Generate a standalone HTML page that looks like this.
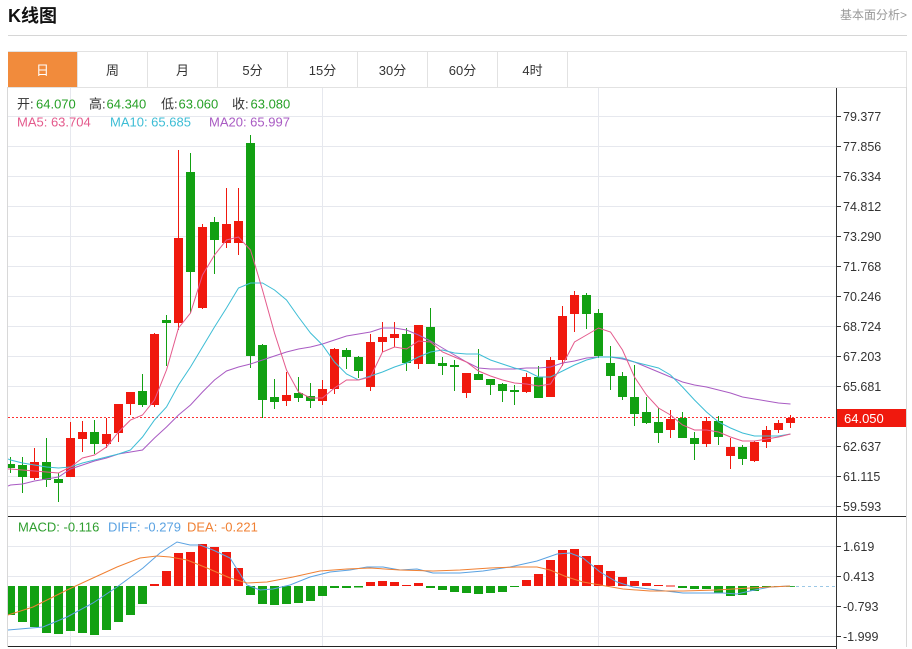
<!DOCTYPE html>
<html>
<head>
<meta charset="utf-8">
<style>
html,body{margin:0;padding:0;background:#fff;}
body{width:912px;height:649px;overflow:hidden;}
svg{display:block;font-family:"Liberation Sans","Noto Sans CJK SC",sans-serif;}
.g{fill:#12a012;stroke:#12a012;}
.r{fill:#f0190e;stroke:#f0190e;}
.gb{fill:#12a012;}
.rb{fill:#f0190e;}
.ax{font-size:12.5px;fill:#333;}
.tab{font-size:13px;fill:#333;text-anchor:middle;}
</style>
</head>
<body>
<svg width="912" height="649" viewBox="0 0 912 649" xmlns="http://www.w3.org/2000/svg">
<defs>
<clipPath id="cp"><rect x="8" y="88" width="828" height="428"/></clipPath>
<clipPath id="cm"><rect x="8" y="517" width="828" height="129"/></clipPath>
</defs>
<rect width="912" height="649" fill="#fff"/>
<!-- header -->
<text x="8" y="22" font-size="18" font-weight="bold" fill="#111">K线图</text>
<text x="907" y="19" font-size="12" fill="#999" text-anchor="end">基本面分析&gt;</text>
<line x1="8" y1="35.5" x2="907" y2="35.5" stroke="#d6d6d6"/>

<!-- tabs -->
<rect x="8.5" y="51.5" width="898" height="36" fill="#fff" stroke="#e2e2e2"/>
<rect x="8" y="52" width="69" height="35" fill="#f18b3c"/>
<g stroke="#e2e2e2">
<line x1="77.5" y1="52" x2="77.5" y2="87"/>
<line x1="147.5" y1="52" x2="147.5" y2="87"/>
<line x1="217.5" y1="52" x2="217.5" y2="87"/>
<line x1="287.5" y1="52" x2="287.5" y2="87"/>
<line x1="357.5" y1="52" x2="357.5" y2="87"/>
<line x1="427.5" y1="52" x2="427.5" y2="87"/>
<line x1="497.5" y1="52" x2="497.5" y2="87"/>
<line x1="567.5" y1="52" x2="567.5" y2="87"/>
</g>
<text x="42.5" y="75" class="tab" style="fill:#fff">日</text>
<text x="112.5" y="75" class="tab">周</text>
<text x="182.5" y="75" class="tab">月</text>
<text x="252.5" y="75" class="tab">5分</text>
<text x="322.5" y="75" class="tab">15分</text>
<text x="392.5" y="75" class="tab">30分</text>
<text x="462.5" y="75" class="tab">60分</text>
<text x="532.5" y="75" class="tab">4时</text>

<!-- chart frame -->
<line x1="7.5" y1="87" x2="7.5" y2="647" stroke="#d8d8d8"/>
<line x1="906.5" y1="87" x2="906.5" y2="647" stroke="#d8d8d8"/>

<!-- grid main -->
<g stroke="#e6e8ee">
<line x1="8" y1="116.5" x2="836" y2="116.5"/>
<line x1="8" y1="146.5" x2="836" y2="146.5"/>
<line x1="8" y1="176.5" x2="836" y2="176.5"/>
<line x1="8" y1="206.5" x2="836" y2="206.5"/>
<line x1="8" y1="236.5" x2="836" y2="236.5"/>
<line x1="8" y1="266.5" x2="836" y2="266.5"/>
<line x1="8" y1="296.5" x2="836" y2="296.5"/>
<line x1="8" y1="326.5" x2="836" y2="326.5"/>
<line x1="8" y1="356.5" x2="836" y2="356.5"/>
<line x1="8" y1="386.5" x2="836" y2="386.5"/>
<line x1="8" y1="446.5" x2="836" y2="446.5"/>
<line x1="8" y1="476.5" x2="836" y2="476.5"/>
<line x1="8" y1="506.5" x2="836" y2="506.5"/>
<line x1="8" y1="546.5" x2="836" y2="546.5"/>
<line x1="8" y1="576.5" x2="836" y2="576.5"/>
<line x1="8" y1="606.5" x2="836" y2="606.5"/>
<line x1="8" y1="636.5" x2="836" y2="636.5"/>
<line x1="70.5" y1="88" x2="70.5" y2="646"/>
<line x1="322.5" y1="88" x2="322.5" y2="646"/>
<line x1="598.5" y1="88" x2="598.5" y2="646"/>
</g>

<!-- current price dotted line -->
<line x1="8" y1="417.5" x2="836" y2="417.5" stroke="#ff3030" stroke-dasharray="2 2" shape-rendering="crispEdges"/>

<!-- candles -->
<g clip-path="url(#cp)">
<g class="g"><line x1="10.5" y1="457" x2="10.5" y2="473" fill="none"/><rect x="6" y="464" width="9" height="4" stroke="none"/></g>
<g class="g"><line x1="22.5" y1="457" x2="22.5" y2="493"/><rect x="18" y="465" width="9" height="12" stroke="none"/></g>
<g class="r"><line x1="34.5" y1="448" x2="34.5" y2="480"/><rect x="30" y="462" width="9" height="16" stroke="none"/></g>
<g class="g"><line x1="46.5" y1="438" x2="46.5" y2="487"/><rect x="42" y="462" width="9" height="18" stroke="none"/></g>
<g class="g"><line x1="58.5" y1="473" x2="58.5" y2="502"/><rect x="54" y="479" width="9" height="4" stroke="none"/></g>
<g class="r"><line x1="70.5" y1="422" x2="70.5" y2="477"/><rect x="66" y="438" width="9" height="39" stroke="none"/></g>
<g class="r"><line x1="82.5" y1="421" x2="82.5" y2="452"/><rect x="78" y="432" width="9" height="7" stroke="none"/></g>
<g class="g"><line x1="94.5" y1="420" x2="94.5" y2="454"/><rect x="90" y="432" width="9" height="12" stroke="none"/></g>
<g class="r"><line x1="106.5" y1="418" x2="106.5" y2="448"/><rect x="102" y="434" width="9" height="10" stroke="none"/></g>
<g class="r"><line x1="118.5" y1="404" x2="118.5" y2="442"/><rect x="114" y="404" width="9" height="29" stroke="none"/></g>
<g class="r"><line x1="130.5" y1="392" x2="130.5" y2="415"/><rect x="126" y="392" width="9" height="12" stroke="none"/></g>
<g class="g"><line x1="142.5" y1="374" x2="142.5" y2="407"/><rect x="138" y="391" width="9" height="14" stroke="none"/></g>
<g class="r"><line x1="154.5" y1="333" x2="154.5" y2="407"/><rect x="150" y="334" width="9" height="71" stroke="none"/></g>
<g class="g"><line x1="166.5" y1="315" x2="166.5" y2="366"/><rect x="162" y="320" width="9" height="3" stroke="none"/></g>
<g class="r"><line x1="178.5" y1="150" x2="178.5" y2="330"/><rect x="174" y="238" width="9" height="85" stroke="none"/></g>
<g class="g"><line x1="190.5" y1="153" x2="190.5" y2="313"/><rect x="186" y="172" width="9" height="100" stroke="none"/></g>
<g class="r"><line x1="202.5" y1="224" x2="202.5" y2="309"/><rect x="198" y="227" width="9" height="81" stroke="none"/></g>
<g class="g"><line x1="214.5" y1="217" x2="214.5" y2="274"/><rect x="210" y="222" width="9" height="18" stroke="none"/></g>
<g class="r"><line x1="226.5" y1="188" x2="226.5" y2="248"/><rect x="222" y="224" width="9" height="19" stroke="none"/></g>
<g class="r"><line x1="238.5" y1="188" x2="238.5" y2="255"/><rect x="234" y="221" width="9" height="22" stroke="none"/></g>
<g class="g"><line x1="250.5" y1="135" x2="250.5" y2="368"/><rect x="246" y="143" width="9" height="213" stroke="none"/></g>
<g class="g"><line x1="262.5" y1="344" x2="262.5" y2="418"/><rect x="258" y="345" width="9" height="55" stroke="none"/></g>
<g class="g"><line x1="274.5" y1="379" x2="274.5" y2="409"/><rect x="270" y="397" width="9" height="5" stroke="none"/></g>
<g class="r"><line x1="286.5" y1="372" x2="286.5" y2="406"/><rect x="282" y="395" width="9" height="6" stroke="none"/></g>
<g class="g"><line x1="298.5" y1="377" x2="298.5" y2="402"/><rect x="294" y="393" width="9" height="5" stroke="none"/></g>
<g class="g"><line x1="310.5" y1="383" x2="310.5" y2="408"/><rect x="306" y="396" width="9" height="5" stroke="none"/></g>
<g class="r"><line x1="322.5" y1="380" x2="322.5" y2="405"/><rect x="318" y="389" width="9" height="12" stroke="none"/></g>
<g class="r"><line x1="334.5" y1="348" x2="334.5" y2="394"/><rect x="330" y="349" width="9" height="40" stroke="none"/></g>
<g class="g"><line x1="346.5" y1="348" x2="346.5" y2="369"/><rect x="342" y="350" width="9" height="7" stroke="none"/></g>
<g class="g"><line x1="358.5" y1="356" x2="358.5" y2="378"/><rect x="354" y="357" width="9" height="14" stroke="none"/></g>
<g class="r"><line x1="370.5" y1="334" x2="370.5" y2="391"/><rect x="366" y="342" width="9" height="45" stroke="none"/></g>
<g class="r"><line x1="382.5" y1="322" x2="382.5" y2="352"/><rect x="378" y="337" width="9" height="5" stroke="none"/></g>
<g class="r"><line x1="394.5" y1="322" x2="394.5" y2="347"/><rect x="390" y="334" width="9" height="4" stroke="none"/></g>
<g class="g"><line x1="406.5" y1="328" x2="406.5" y2="371"/><rect x="402" y="334" width="9" height="29" stroke="none"/></g>
<g class="r"><line x1="418.5" y1="325" x2="418.5" y2="369"/><rect x="414" y="325" width="9" height="39" stroke="none"/></g>
<g class="g"><line x1="430.5" y1="308" x2="430.5" y2="364"/><rect x="426" y="327" width="9" height="37" stroke="none"/></g>
<g class="g"><line x1="442.5" y1="357" x2="442.5" y2="375"/><rect x="438" y="363" width="9" height="3" stroke="none"/></g>
<g class="g"><line x1="454.5" y1="360" x2="454.5" y2="391"/><rect x="450" y="365" width="9" height="2" stroke="none"/></g>
<g class="r"><line x1="466.5" y1="373" x2="466.5" y2="398"/><rect x="462" y="373" width="9" height="20" stroke="none"/></g>
<g class="g"><line x1="478.5" y1="349" x2="478.5" y2="380"/><rect x="474" y="374" width="9" height="6" stroke="none"/></g>
<g class="g"><line x1="490.5" y1="379" x2="490.5" y2="395"/><rect x="486" y="379" width="9" height="6" stroke="none"/></g>
<g class="g"><line x1="502.5" y1="383" x2="502.5" y2="402"/><rect x="498" y="384" width="9" height="7" stroke="none"/></g>
<g class="g"><line x1="514.5" y1="385" x2="514.5" y2="405"/><rect x="510" y="390" width="9" height="2" stroke="none"/></g>
<g class="r"><line x1="526.5" y1="373" x2="526.5" y2="393"/><rect x="522" y="377" width="9" height="15" stroke="none"/></g>
<g class="g"><line x1="538.5" y1="366" x2="538.5" y2="398"/><rect x="534" y="377" width="9" height="21" stroke="none"/></g>
<g class="r"><line x1="550.5" y1="357" x2="550.5" y2="397"/><rect x="546" y="360" width="9" height="37" stroke="none"/></g>
<g class="r"><line x1="562.5" y1="306" x2="562.5" y2="366"/><rect x="558" y="316" width="9" height="44" stroke="none"/></g>
<g class="r"><line x1="574.5" y1="291" x2="574.5" y2="332"/><rect x="570" y="295" width="9" height="19" stroke="none"/></g>
<g class="g"><line x1="586.5" y1="293" x2="586.5" y2="329"/><rect x="582" y="295" width="9" height="19" stroke="none"/></g>
<g class="g"><line x1="598.5" y1="309" x2="598.5" y2="358"/><rect x="594" y="313" width="9" height="43" stroke="none"/></g>
<g class="g"><line x1="610.5" y1="346" x2="610.5" y2="390"/><rect x="606" y="363" width="9" height="13" stroke="none"/></g>
<g class="g"><line x1="622.5" y1="372" x2="622.5" y2="400"/><rect x="618" y="376" width="9" height="21" stroke="none"/></g>
<g class="g"><line x1="634.5" y1="365" x2="634.5" y2="426"/><rect x="630" y="397" width="9" height="17" stroke="none"/></g>
<g class="g"><line x1="646.5" y1="397" x2="646.5" y2="424"/><rect x="642" y="412" width="9" height="11" stroke="none"/></g>
<g class="g"><line x1="658.5" y1="408" x2="658.5" y2="443"/><rect x="654" y="422" width="9" height="11" stroke="none"/></g>
<g class="r"><line x1="670.5" y1="410" x2="670.5" y2="438"/><rect x="666" y="419" width="9" height="11" stroke="none"/></g>
<g class="g"><line x1="682.5" y1="412" x2="682.5" y2="438"/><rect x="678" y="418" width="9" height="20" stroke="none"/></g>
<g class="g"><line x1="694.5" y1="432" x2="694.5" y2="460"/><rect x="690" y="438" width="9" height="6" stroke="none"/></g>
<g class="r"><line x1="706.5" y1="417" x2="706.5" y2="447"/><rect x="702" y="421" width="9" height="23" stroke="none"/></g>
<g class="g"><line x1="718.5" y1="416" x2="718.5" y2="445"/><rect x="714" y="421" width="9" height="16" stroke="none"/></g>
<g class="r"><line x1="730.5" y1="438" x2="730.5" y2="469"/><rect x="726" y="447" width="9" height="9" stroke="none"/></g>
<g class="g"><line x1="742.5" y1="445" x2="742.5" y2="465"/><rect x="738" y="447" width="9" height="12" stroke="none"/></g>
<g class="r"><line x1="754.5" y1="441" x2="754.5" y2="462"/><rect x="750" y="442" width="9" height="19" stroke="none"/></g>
<g class="r"><line x1="766.5" y1="426" x2="766.5" y2="448"/><rect x="762" y="430" width="9" height="12" stroke="none"/></g>
<g class="r"><line x1="778.5" y1="420" x2="778.5" y2="433"/><rect x="774" y="423" width="9" height="7" stroke="none"/></g>
<g class="r"><line x1="790.5" y1="415" x2="790.5" y2="428"/><rect x="786" y="418" width="9" height="5" stroke="none"/></g>

<!-- MA lines -->
<polyline fill="none" stroke="#a95bc3" stroke-width="1" points="8,486 10.5,485 22.5,484 34.5,481 46.5,479 58.5,477 70.5,469 82.5,465 94.5,461 106.5,458 118.5,454 130.5,452 142.5,450 154.5,438 166.5,427 178.5,415 190.5,405 202.5,392 214.5,380 226.5,371 238.5,367 250.5,364 262.5,360 274.5,356 286.5,352 298.5,349 310.5,347 322.5,344 334.5,340 346.5,336 358.5,334 370.5,332 382.5,328 394.5,328 406.5,330 418.5,335 430.5,341 442.5,348 454.5,355 466.5,362 478.5,368 490.5,369 502.5,369 514.5,369 526.5,368 538.5,368 550.5,367 562.5,363 574.5,361 586.5,358 598.5,357 610.5,357 622.5,359 634.5,362 646.5,367 658.5,372 670.5,377 682.5,382 694.5,385 706.5,387 718.5,390 730.5,393 742.5,397 754.5,399 766.5,401 778.5,403 790.5,404"/>
<polyline fill="none" stroke="#3dbdd5" stroke-width="1" points="8,459 10.5,460 22.5,463 34.5,465 46.5,467 58.5,468 70.5,467 82.5,463 94.5,460 106.5,457 118.5,454 130.5,450 142.5,437 154.5,420 166.5,407 178.5,385 190.5,367 202.5,347 214.5,327 226.5,308 238.5,288 250.5,283 262.5,283 274.5,290 286.5,300 298.5,317 310.5,333 322.5,345 334.5,362 346.5,374 358.5,380 370.5,376 382.5,372 394.5,367 406.5,363 418.5,357 430.5,352 442.5,350 454.5,353 466.5,354 478.5,354 490.5,360 502.5,364 514.5,368 526.5,371 538.5,377 550.5,377 562.5,371 574.5,365 586.5,360 598.5,357 610.5,357 622.5,358 634.5,362 646.5,365 658.5,368 670.5,375 682.5,387 694.5,400 706.5,412 718.5,422 730.5,428 742.5,433 754.5,436 766.5,436 778.5,436 790.5,434"/>
<polyline fill="none" stroke="#e45a8c" stroke-width="1" points="8,469 10.5,469 22.5,470 34.5,471 46.5,472 58.5,473 70.5,467 82.5,458 94.5,455 106.5,447 118.5,432 130.5,420 142.5,415 154.5,400 166.5,370 178.5,328 190.5,313 202.5,275 214.5,255 226.5,240 238.5,237 250.5,250 262.5,290 274.5,333 286.5,370 298.5,392 310.5,398 322.5,398 334.5,388 346.5,380 358.5,380 370.5,377 382.5,352 394.5,347 406.5,349 418.5,341 430.5,342 442.5,352 454.5,357 466.5,362 478.5,371 490.5,376 502.5,380 514.5,383 526.5,384 538.5,386 550.5,384 562.5,365 574.5,342 586.5,335 598.5,328 610.5,332 622.5,350 634.5,377 646.5,395 658.5,408 670.5,415 682.5,425 694.5,430 706.5,430 718.5,432 730.5,437 742.5,441 754.5,441 766.5,439 778.5,437 790.5,434"/>
</g>

<!-- MACD -->
<line x1="790" y1="586.5" x2="836" y2="586.5" stroke="#9cc8e6" stroke-dasharray="3 3"/>
<g clip-path="url(#cm)">
<rect class="gb" x="6" y="586" width="9" height="29"/>
<rect class="gb" x="18" y="586" width="9" height="36"/>
<rect class="gb" x="30" y="586" width="9" height="41"/>
<rect class="gb" x="42" y="586" width="9" height="47"/>
<rect class="gb" x="54" y="586" width="9" height="48"/>
<rect class="gb" x="66" y="586" width="9" height="45"/>
<rect class="gb" x="78" y="586" width="9" height="47"/>
<rect class="gb" x="90" y="586" width="9" height="49"/>
<rect class="gb" x="102" y="586" width="9" height="44"/>
<rect class="gb" x="114" y="586" width="9" height="36"/>
<rect class="gb" x="126" y="586" width="9" height="29"/>
<rect class="gb" x="138" y="586" width="9" height="18"/>
<rect class="rb" x="150" y="584" width="9" height="2"/>
<rect class="rb" x="162" y="571" width="9" height="15"/>
<rect class="rb" x="174" y="553" width="9" height="33"/>
<rect class="rb" x="186" y="552" width="9" height="34"/>
<rect class="rb" x="198" y="544" width="9" height="42"/>
<rect class="rb" x="210" y="547" width="9" height="39"/>
<rect class="rb" x="222" y="552" width="9" height="34"/>
<rect class="rb" x="234" y="568" width="9" height="18"/>
<rect class="gb" x="246" y="586" width="9" height="9"/>
<rect class="gb" x="258" y="586" width="9" height="18"/>
<rect class="gb" x="270" y="586" width="9" height="19"/>
<rect class="gb" x="282" y="586" width="9" height="18"/>
<rect class="gb" x="294" y="586" width="9" height="17"/>
<rect class="gb" x="306" y="586" width="9" height="15"/>
<rect class="gb" x="318" y="586" width="9" height="10"/>
<rect class="gb" x="330" y="586" width="9" height="2"/>
<rect class="gb" x="342" y="586" width="9" height="2"/>
<rect class="gb" x="354" y="586" width="9" height="1.5"/>
<rect class="rb" x="366" y="582" width="9" height="4"/>
<rect class="rb" x="378" y="581" width="9" height="5"/>
<rect class="rb" x="390" y="582" width="9" height="4"/>
<rect class="rb" x="402" y="585" width="9" height="1"/>
<rect class="rb" x="414" y="583" width="9" height="3"/>
<rect class="gb" x="426" y="586" width="9" height="2"/>
<rect class="gb" x="438" y="586" width="9" height="4"/>
<rect class="gb" x="450" y="586" width="9" height="6"/>
<rect class="gb" x="462" y="586" width="9" height="7"/>
<rect class="gb" x="474" y="586" width="9" height="8"/>
<rect class="gb" x="486" y="586" width="9" height="7"/>
<rect class="gb" x="498" y="586" width="9" height="6"/>
<rect class="gb" x="510" y="586" width="9" height="1"/>
<rect class="rb" x="522" y="580" width="9" height="6"/>
<rect class="rb" x="534" y="574" width="9" height="12"/>
<rect class="rb" x="546" y="560" width="9" height="26"/>
<rect class="rb" x="558" y="550" width="9" height="36"/>
<rect class="rb" x="570" y="549" width="9" height="37"/>
<rect class="rb" x="582" y="556" width="9" height="30"/>
<rect class="rb" x="594" y="565" width="9" height="21"/>
<rect class="rb" x="606" y="571" width="9" height="15"/>
<rect class="rb" x="618" y="577" width="9" height="9"/>
<rect class="rb" x="630" y="581" width="9" height="5"/>
<rect class="rb" x="642" y="583" width="9" height="3"/>
<rect class="rb" x="654" y="585" width="9" height="1"/>
<rect class="rb" x="666" y="585.5" width="9" height="1"/>
<rect class="gb" x="678" y="586" width="9" height="2"/>
<rect class="gb" x="690" y="586" width="9" height="3"/>
<rect class="gb" x="702" y="586" width="9" height="3"/>
<rect class="gb" x="714" y="586" width="9" height="7"/>
<rect class="gb" x="726" y="586" width="9" height="10"/>
<rect class="gb" x="738" y="586" width="9" height="9"/>
<rect class="gb" x="750" y="586" width="9" height="5"/>
<rect class="gb" x="762" y="586" width="9" height="1.5"/>
<rect class="gb" x="774" y="586" width="9" height="1"/>
<rect class="gb" x="786" y="586" width="9" height="0.8"/>
<polyline fill="none" stroke="#5aa2e2" stroke-width="1" points="8,630 43,627 67,617 93,603 117,587 143,568 160,553 177,542 190,545 200,545 213,550 230,558 247,585 260,590 273,589 290,585 310,577 330,572 350,570 367,567 383,567 400,570 417,569 433,573 460,573 483,571 510,567 537,561 557,554 570,553 583,558 600,572 617,582 633,587 657,590 683,593 703,593 723,593 737,594 750,591 770,587 790,586"/>
<polyline fill="none" stroke="#f08033" stroke-width="1" points="8,615 33,607 67,590 93,578 117,567 140,558 157,556 170,557 187,560 207,568 230,578 247,583 267,582 293,577 320,571 347,569 370,568 400,570 433,571 460,570 490,568 517,567 537,567 550,570 567,577 583,582 600,585 623,589 650,591 683,591 717,590 733,589 750,588 790,586"/>
</g>

<!-- axis & separators -->
<line x1="8" y1="516.5" x2="906" y2="516.5" stroke="#222"/>
<line x1="8" y1="646.5" x2="836" y2="646.5" stroke="#222"/>
<line x1="836.5" y1="88" x2="836.5" y2="649" stroke="#333"/>
<g stroke="#333">
<line x1="837" y1="116.5" x2="841" y2="116.5"/>
<line x1="837" y1="146.5" x2="841" y2="146.5"/>
<line x1="837" y1="176.5" x2="841" y2="176.5"/>
<line x1="837" y1="206.5" x2="841" y2="206.5"/>
<line x1="837" y1="236.5" x2="841" y2="236.5"/>
<line x1="837" y1="266.5" x2="841" y2="266.5"/>
<line x1="837" y1="296.5" x2="841" y2="296.5"/>
<line x1="837" y1="326.5" x2="841" y2="326.5"/>
<line x1="837" y1="356.5" x2="841" y2="356.5"/>
<line x1="837" y1="386.5" x2="841" y2="386.5"/>
<line x1="837" y1="446.5" x2="841" y2="446.5"/>
<line x1="837" y1="476.5" x2="841" y2="476.5"/>
<line x1="837" y1="506.5" x2="841" y2="506.5"/>
<line x1="837" y1="546.5" x2="841" y2="546.5"/>
<line x1="837" y1="576.5" x2="841" y2="576.5"/>
<line x1="837" y1="606.5" x2="841" y2="606.5"/>
<line x1="837" y1="636.5" x2="841" y2="636.5"/>
</g>
<text class="ax" x="843" y="121">79.377</text>
<text class="ax" x="843" y="151">77.856</text>
<text class="ax" x="843" y="181">76.334</text>
<text class="ax" x="843" y="211">74.812</text>
<text class="ax" x="843" y="241">73.290</text>
<text class="ax" x="843" y="271">71.768</text>
<text class="ax" x="843" y="301">70.246</text>
<text class="ax" x="843" y="331">68.724</text>
<text class="ax" x="843" y="361">67.203</text>
<text class="ax" x="843" y="391">65.681</text>
<text class="ax" x="843" y="451">62.637</text>
<text class="ax" x="843" y="481">61.115</text>
<text class="ax" x="843" y="511">59.593</text>
<text class="ax" x="843" y="551">1.619</text>
<text class="ax" x="843" y="581">0.413</text>
<text class="ax" x="843" y="611">-0.793</text>
<text class="ax" x="843" y="641">-1.999</text>
<rect x="837" y="409" width="69" height="18" fill="#f0190e"/>
<text x="844" y="423" font-size="13" fill="#fff">64.050</text>

<!-- legends -->
<g font-size="13">
<text x="17" y="108.5" fill="#333">开:</text><text x="36" y="108.5" fill="#26a026">64.070</text>
<text x="89" y="108.5" fill="#333">高:</text><text x="106.5" y="108.5" fill="#26a026">64.340</text>
<text x="161" y="108.5" fill="#333">低:</text><text x="178.5" y="108.5" fill="#26a026">63.060</text>
<text x="232" y="108.5" fill="#333">收:</text><text x="250.5" y="108.5" fill="#26a026">63.080</text>
<text x="17" y="126.5" fill="#e45a8c">MA5: 63.704</text>
<text x="110" y="126.5" fill="#3dbdd5">MA10: 65.685</text>
<text x="209" y="126.5" fill="#a95bc3">MA20: 65.997</text>
<text x="18" y="531.5" fill="#2e9e2e">MACD: -0.116</text>
<text x="108" y="531.5" fill="#5aa2e2">DIFF: -0.279</text>
<text x="187" y="531.5" fill="#f08033">DEA: -0.221</text>
</g>
</svg>
</body>
</html>
